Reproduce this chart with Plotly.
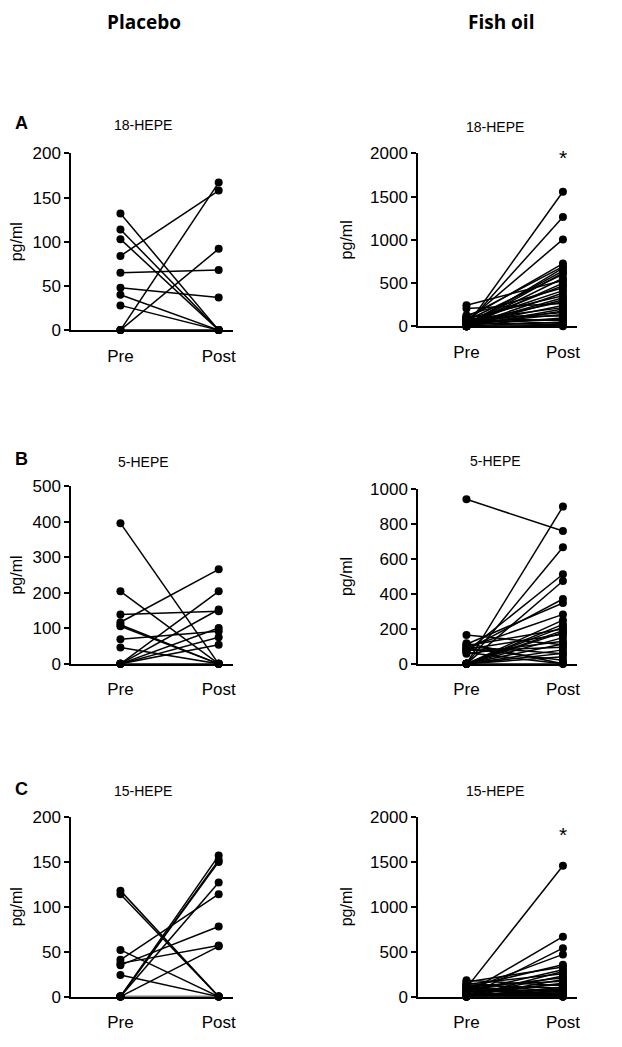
import plotly.graph_objects as go

# page is 622x1047 with the browser's 8px body margin -> figure 606x1031
PAGE_MARGIN = 8
W, H = 622 - 2 * PAGE_MARGIN, 1047 - 2 * PAGE_MARGIN

# ---------------- data ----------------
groups = ["Placebo", "Fish oil"]
panel_letters = ["A", "B", "C"]
analytes = ["18-HEPE", "5-HEPE", "15-HEPE"]
timepoints = ["Pre", "Post"]
y_label = "pg/ml"

pl_18_pre = [132, 114, 103, 84, 65, 48, 40, 28, 0, 0, 0]
pl_18_post = [0, 0, 0, 158, 68, 37, 0, 0, 167, 92, 0]

fo_18_pre = [242, 205, 128, 112, 104, 96, 88, 83, 77, 70, 66, 61, 54, 50, 47, 41, 36, 33,
             28, 24, 19, 15, 12, 8, 5, 3, 0, 0, 0, 0, 0, 0, 0, 0, 0, 0]
fo_18_post = [530, 262, 445, 118, 690, 62, 352, 725, 30, 215, 600, 158, 1005, 284, 80, 412, 18, 470,
              136, 640, 1265, 240, 96, 330, 45, 555, 1557, 498, 176, 385, 8, 305, 672, 198, 0, 618]

pl_5_pre = [396, 204, 139, 117, 110, 106, 69, 46, 0, 0, 0, 0, 0, 0]
pl_5_post = [0, 0, 148, 266, 0, 0, 92, 0, 204, 153, 101, 75, 54, 0]

fo_5_pre = [942, 165, 118, 112, 104, 98, 92, 88, 84, 80, 76, 71, 65, 58,
            0, 0, 0, 0, 0, 0, 0, 0, 0, 0, 0, 0, 0, 0]
fo_5_post = [760, 110, 0, 348, 200, 58, 283, 20, 170, 371, 95, 513, 0, 130,
             900, 667, 474, 226, 190, 250, 180, 114, 150, 80, 40, 210, 60, 0]

pl_15_pre = [118, 114, 52, 41, 37, 35, 24, 0, 0, 0, 0, 0, 0]
pl_15_post = [0, 0, 0, 114, 57, 78, 0, 157, 152, 150, 127, 56, 0]

fo_15_pre = [182, 163, 151, 138, 131, 122, 117, 109, 103, 97, 90, 87, 79, 73, 69, 61, 55,
             52, 43, 39, 31, 27, 19, 15, 9, 4, 0, 0, 0, 0, 0, 0, 0, 0]
fo_15_post = [120, 330, 50, 255, 92, 20, 172, 0, 355, 1457, 60, 210, 14, 470, 35, 135, 80,
              300, 5, 667, 42, 150, 0, 230, 28, 105, 539, 9, 190, 70, 280, 0, 0, 0]

y_max = [[200, 2000], [500, 1000], [200, 2000]]
y_dtick = [[50, 500], [100, 200], [50, 500]]
# significance marker ("*") height for each panel (None = no marker)
star_y = [[None, 2000], [None, 1045], [None, 1850]]

data = [[(pl_18_pre, pl_18_post), (fo_18_pre, fo_18_post)],
        [(pl_5_pre, pl_5_post), (fo_5_pre, fo_5_post)],
        [(pl_15_pre, pl_15_post), (fo_15_pre, fo_15_post)]]

# ---------------- layout geometry (page pixels) ----------------
x_dom_px = [(68, 232), (419, 580)]
y_dom_px = [[(147, 327), (147, 323)],
            [(486, 667), (489, 667)],
            [(823, 1006), (823, 1006)]]
header_y = 13
header_x = [142, 503]
letter_x = 18
letter_y = [116, 458, 794]
title_y = [[118, 120], [461, 460], [797, 797]]
title_x = [141, 497]


def fx(px):
    return (px - PAGE_MARGIN) / W


def fy(py):
    return 1 - (py - PAGE_MARGIN) / H


fig = go.Figure()
layout = dict(width=W, height=H, margin=dict(l=0, r=0, t=0, b=0),
              paper_bgcolor="white", plot_bgcolor="white", showlegend=False)
annotations = []

FONT = "Liberation Sans, Arial, sans-serif"
font_ax = dict(family=FONT, size=17, color="black")
font_yt = dict(family=FONT, size=16, color="black")

k = 0
for r in range(3):
    for c in range(2):
        k += 1
        xa = "xaxis" if k == 1 else f"xaxis{k}"
        ya = "yaxis" if k == 1 else f"yaxis{k}"
        xref = "x" if k == 1 else f"x{k}"
        yref = "y" if k == 1 else f"y{k}"
        pre, post = data[r][c]
        xs, ys = [], []
        for a, b in zip(pre, post):
            xs += [0, 1, None]
            ys += [a, b, None]
        fig.add_trace(go.Scatter(x=xs, y=ys, xaxis=xref, yaxis=yref, mode="lines+markers",
                                 line=dict(color="black", width=1.5),
                                 marker=dict(color="black", size=8),
                                 cliponaxis=False, connectgaps=False, hoverinfo="skip"))
        x0, x1 = x_dom_px[c]
        y0, y1 = y_dom_px[r][c]
        layout[xa] = dict(domain=[fx(x0), fx(x1)], range=[-0.5, 1.15], anchor=yref,
                          tickvals=[0, 1], ticktext=timepoints, ticks="outside", ticklen=9,
                          tickcolor="rgba(0,0,0,0)", showline=True, linecolor="black",
                          linewidth=2, showgrid=False, zeroline=False, tickfont=font_ax,
                          fixedrange=True)
        layout[ya] = dict(domain=[fy(y1), fy(y0)], range=[0, y_max[r][c]], anchor=xref,
                          dtick=y_dtick[r][c], tick0=0, ticks="outside", ticklen=5, tickwidth=2,
                          tickcolor="black", showline=True, linecolor="black", linewidth=2,
                          showgrid=False, zeroline=False, tickfont=font_ax,
                          title=dict(text=y_label, font=font_yt, standoff=13),
                          fixedrange=True)
        annotations.append(dict(text=analytes[r], x=fx(title_x[c]), y=fy(title_y[r][c]),
                                xref="paper", yref="paper", showarrow=False,
                                xanchor="center", yanchor="middle",
                                font=dict(family=FONT, size=14, color="black")))
        if star_y[r][c] is not None:
            annotations.append(dict(text="*", x=1, y=star_y[r][c], xref=xref, yref=yref,
                                    showarrow=False, xanchor="center", yanchor="middle", yshift=-4,
                                    font=dict(family=FONT, size=21, color="black")))

for c, g in enumerate(groups):
    annotations.append(dict(text=f"<b>{g}</b>", x=fx(header_x[c]), y=fy(header_y),
                            xref="paper", yref="paper", showarrow=False,
                            xanchor="center", yanchor="middle",
                            font=dict(family="Open Sans, sans-serif", size=19, color="black")))
for r, L in enumerate(panel_letters):
    annotations.append(dict(text=f"<b>{L}</b>", x=fx(letter_x), y=fy(letter_y[r]),
                            xref="paper", yref="paper", showarrow=False,
                            xanchor="center", yanchor="middle",
                            font=dict(family=FONT, size=18, color="black")))

layout["annotations"] = annotations
fig.update_layout(**layout)
fig.write_html("out.html")
